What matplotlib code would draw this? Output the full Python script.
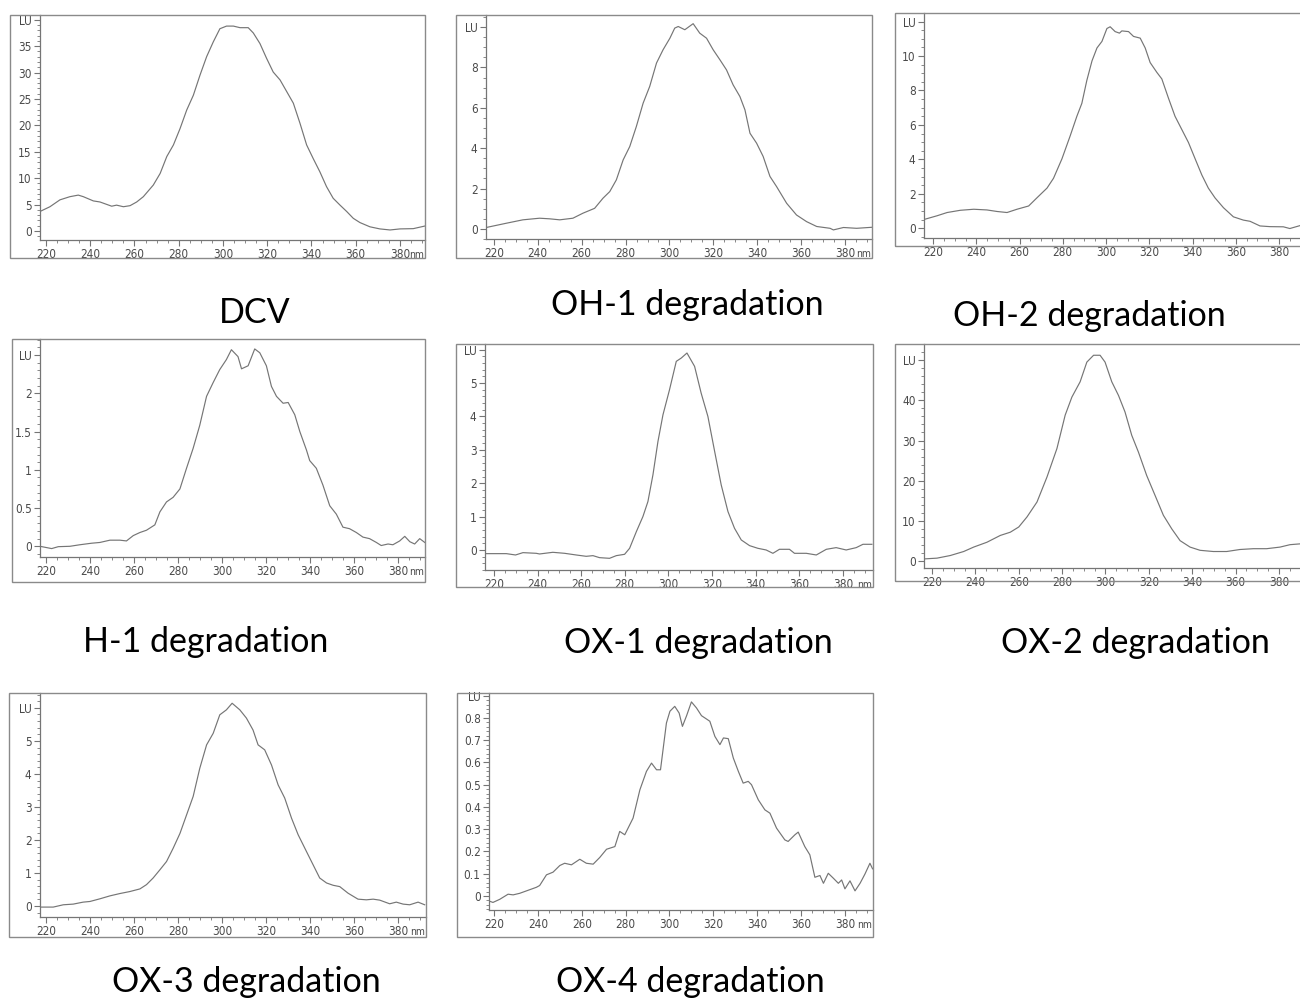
import matplotlib
matplotlib.use("Agg")
import matplotlib.pyplot as plt
from matplotlib.patches import Rectangle
from matplotlib.ticker import MultipleLocator

W, H = 1300, 1001

# spectra: wavelength (nm) and intensity (LU)
dcv_nm = [217.3, 221.8, 226.3, 230.8, 234.6, 236.9, 241.4, 244.4, 249.7, 251.9, 255.0, 258.0, 261.0,
          264.0, 268.5, 271.6, 274.6, 277.6, 280.6, 283.6, 286.6, 289.6, 292.6, 295.6, 298.6, 301.6,
          304.7, 307.7, 311.4, 313.7, 316.7, 319.7, 322.7, 325.8, 328.8, 331.8, 334.8, 337.8, 340.8,
          343.8, 346.8, 349.8, 352.9, 355.9, 358.9, 361.9, 366.4, 370.9, 375.5, 380.0, 386.0, 391.3]
dcv_lu = [3.7, 4.6, 5.9, 6.5, 6.8, 6.5, 5.7, 5.5, 4.7, 4.9, 4.6, 4.8, 5.5,
          6.5, 8.7, 10.9, 14.1, 16.3, 19.4, 22.9, 25.7, 29.5, 33.0, 35.8, 38.3, 38.8,
          38.8, 38.5, 38.5, 37.5, 35.5, 32.7, 30.1, 28.6, 26.4, 24.2, 20.4, 16.3, 13.7,
          11.2, 8.4, 6.2, 4.9, 3.7, 2.4, 1.6, 0.8, 0.4, 0.2, 0.4, 0.45, 0.95]

oh1_nm = [216.5, 225.6, 233.2, 240.8, 245.4, 250.0, 256.0, 260.6, 265.9, 269.7, 272.8, 275.8, 278.9,
          281.9, 284.9, 288.0, 291.0, 294.1, 297.1, 300.2, 302.4, 304.0, 307.0, 310.8, 313.8, 316.9,
          319.9, 323.0, 326.0, 329.0, 332.1, 334.4, 336.7, 339.7, 342.7, 345.8, 348.8, 353.4, 357.9,
          362.5, 367.1, 373.2, 374.7, 379.3, 385.3, 392.2]
oh1_lu = [0.07, 0.28, 0.45, 0.53, 0.5, 0.45, 0.53, 0.78, 1.02, 1.52, 1.85, 2.43, 3.42,
          4.08, 5.07, 6.23, 7.06, 8.22, 8.88, 9.45, 9.95, 10.03, 9.87, 10.17, 9.7, 9.45,
          8.88, 8.38, 7.88, 7.14, 6.56, 5.9, 4.74, 4.25, 3.59, 2.6, 2.1, 1.27, 0.69,
          0.36, 0.12, 0.03, -0.05, 0.07, 0.03, 0.08]

oh2_nm = [216.5, 221.8, 226.5, 232.6, 238.8, 244.9, 249.6, 254.2, 258.8, 264.2, 268.0, 272.7, 275.7,
          279.6, 283.4, 286.5, 288.8, 291.1, 293.5, 295.8, 298.1, 300.4, 301.9, 304.2, 306.2, 307.3,
          310.4, 312.7, 315.8, 318.1, 320.4, 323.5, 325.8, 328.9, 331.9, 335.0, 338.1, 341.2, 344.3,
          347.3, 350.4, 354.3, 358.9, 363.5, 366.6, 371.2, 375.8, 382.0, 385.0, 389.7]
oh2_lu = [0.53, 0.72, 0.91, 1.04, 1.1, 1.06, 0.97, 0.91, 1.1, 1.29, 1.76, 2.33, 2.9,
          4.03, 5.36, 6.5, 7.25, 8.58, 9.72, 10.47, 10.85, 11.6, 11.7, 11.42, 11.33, 11.46,
          11.42, 11.14, 11.04, 10.47, 9.62, 9.05, 8.67, 7.54, 6.5, 5.74, 4.98, 4.03, 3.09,
          2.33, 1.76, 1.19, 0.66, 0.47, 0.4, 0.13, 0.09, 0.08, -0.02, 0.15]

h1_nm = [217.3, 222.6, 225.6, 230.9, 235.4, 240.7, 244.5, 249.1, 253.6, 256.6, 259.7, 262.7, 265.7,
         269.5, 271.8, 274.8, 277.8, 280.9, 283.9, 286.9, 289.9, 293.0, 296.0, 299.0, 302.0, 304.3,
         307.3, 308.9, 311.9, 314.9, 317.2, 320.2, 322.5, 324.8, 327.8, 330.1, 333.1, 335.4, 338.4,
         339.9, 342.9, 345.9, 349.0, 352.0, 355.0, 358.0, 361.1, 364.1, 367.1, 370.2, 372.4, 375.5,
         377.7, 380.8, 383.1, 385.4, 387.6, 389.9, 392.2]
h1_lu = [0.0, -0.03, -0.005, 0.0, 0.02, 0.04, 0.05, 0.08, 0.08, 0.07, 0.14, 0.18, 0.21,
         0.28, 0.45, 0.58, 0.64, 0.75, 1.02, 1.28, 1.58, 1.96, 2.14, 2.31, 2.44, 2.57,
         2.48, 2.32, 2.36, 2.58, 2.53, 2.36, 2.09, 1.96, 1.87, 1.88, 1.72, 1.5, 1.26,
         1.12, 1.02, 0.8, 0.53, 0.42, 0.25, 0.23, 0.18, 0.12, 0.1, 0.05, 0.01, 0.03,
         0.02, 0.07, 0.13, 0.06, 0.03, 0.1, 0.05]

ox1_nm = [215.7, 225.7, 229.9, 233.3, 239.4, 240.9, 247.0, 252.4, 257.7, 262.3, 265.4, 268.4, 273.0,
          276.1, 279.9, 282.2, 285.3, 288.3, 290.6, 292.9, 295.2, 297.5, 300.5, 303.6, 305.9, 308.5,
          312.0, 315.0, 318.1, 321.2, 324.2, 327.3, 330.3, 333.4, 337.2, 341.0, 344.8, 347.9, 350.9,
          355.5, 357.8, 363.2, 367.8, 372.4, 376.9, 381.5, 386.1, 389.2, 393.3]
ox1_lu = [-0.11, -0.11, -0.15, -0.08, -0.1, -0.12, -0.07, -0.1, -0.15, -0.19, -0.17, -0.23, -0.25,
          -0.17, -0.13, 0.05, 0.55, 1.0, 1.45, 2.25, 3.25, 4.05, 4.8, 5.65, 5.75, 5.9,
          5.5, 4.7, 4.0, 2.95, 1.95, 1.15, 0.65, 0.3, 0.13, 0.05, 0.0, -0.1, 0.02,
          0.02, -0.1, -0.1, -0.15, 0.02, 0.07, 0.0, 0.07, 0.17, 0.17]

ox2_nm = [216.9, 222.3, 228.4, 234.6, 239.2, 245.3, 251.5, 256.1, 260.0, 263.8, 268.4, 273.0, 277.6,
          281.4, 284.5, 288.3, 291.4, 294.5, 297.5, 299.8, 302.9, 306.0, 309.0, 312.1, 315.2, 319.0,
          322.9, 326.7, 330.6, 334.4, 339.0, 343.6, 349.7, 355.9, 362.0, 368.2, 374.3, 380.5, 385.1,
          389.7]
ox2_lu = [0.58, 0.75, 1.4, 2.4, 3.5, 4.7, 6.4, 7.2, 8.5, 11.0, 14.7, 20.9, 28.0,
          36.3, 40.8, 44.6, 49.5, 51.2, 51.2, 49.5, 44.6, 41.2, 37.1, 31.3, 27.1, 21.3,
          16.3, 11.4, 8.0, 5.1, 3.5, 2.7, 2.4, 2.4, 2.9, 3.1, 3.1, 3.5, 4.1,
          4.3]

ox3_nm = [217.3, 223.3, 227.9, 232.4, 236.9, 240.0, 244.5, 249.1, 253.6, 258.1, 262.7, 265.7, 268.7,
          271.8, 274.8, 277.8, 280.9, 283.9, 286.9, 289.9, 293.0, 296.0, 299.0, 302.0, 304.6, 308.1,
          311.1, 314.1, 316.4, 319.4, 322.5, 325.5, 328.5, 331.6, 334.6, 338.4, 341.4, 344.4, 347.5,
          350.5, 353.5, 357.3, 361.8, 365.6, 368.7, 371.7, 376.2, 379.2, 382.3, 385.3, 389.1, 392.1]
ox3_lu = [-0.03, -0.03, 0.04, 0.06, 0.12, 0.14, 0.22, 0.31, 0.38, 0.44, 0.52, 0.65, 0.85,
          1.1, 1.35, 1.75, 2.2, 2.76, 3.32, 4.17, 4.88, 5.23, 5.79, 5.94, 6.14, 5.94,
          5.69, 5.33, 4.88, 4.73, 4.27, 3.67, 3.27, 2.66, 2.16, 1.65, 1.25, 0.85, 0.7,
          0.63, 0.59, 0.39, 0.21, 0.19, 0.21, 0.18, 0.07, 0.12, 0.06, 0.04, 0.12, 0.04]

ox4_nm = [217.3, 219.5, 222.6, 226.4, 228.7, 231.7, 234.8, 239.3, 240.8, 243.9, 246.9, 250.0, 252.2,
          255.3, 259.1, 262.1, 265.2, 268.2, 271.3, 275.1, 277.3, 279.6, 283.4, 286.5, 289.5, 291.8,
          294.1, 295.9, 298.6, 300.2, 302.4, 304.4, 305.9, 307.8, 310.0, 312.3, 314.6, 316.9, 318.4,
          320.7, 323.0, 324.6, 326.8, 329.1, 331.4, 333.6, 335.9, 337.4, 340.5, 343.5, 345.8, 348.8,
          352.6, 354.1, 357.2, 358.7, 361.7, 364.0, 366.3, 368.6, 370.2, 372.4, 374.7, 377.0, 378.5,
          380.0, 382.3, 384.6, 386.9, 389.1, 391.4, 392.6]
ox4_lu = [-0.021, -0.029, -0.015, 0.008, 0.005, 0.012, 0.023, 0.039, 0.047, 0.095, 0.107, 0.137, 0.147,
          0.14, 0.165, 0.147, 0.143, 0.173, 0.21, 0.222, 0.29, 0.275, 0.35, 0.477, 0.56, 0.597,
          0.567, 0.567, 0.777, 0.83, 0.852, 0.822, 0.762, 0.81, 0.872, 0.845, 0.81, 0.795, 0.785,
          0.717, 0.68, 0.71, 0.707, 0.62, 0.56, 0.507, 0.515, 0.5, 0.432, 0.387, 0.372, 0.305,
          0.252, 0.245, 0.275, 0.287, 0.222, 0.185, 0.084, 0.092, 0.057, 0.102, 0.08, 0.057, 0.072,
          0.032, 0.068, 0.023, 0.057, 0.098, 0.147, 0.122]

titles = ["DCV", "OH-1 degradation", "OH-2 degradation", "H-1 degradation", "OX-1 degradation",
          "OX-2 degradation", "OX-3 degradation", "OX-4 degradation"]
xs = [dcv_nm, oh1_nm, oh2_nm, h1_nm, ox1_nm, ox2_nm, ox3_nm, ox4_nm]
ys = [dcv_lu, oh1_lu, oh2_lu, h1_lu, ox1_lu, ox2_lu, ox3_lu, ox4_lu]
yticks = [[0, 5, 10, 15, 20, 25, 30, 35], [0, 2, 4, 6, 8], [0, 2, 4, 6, 8, 10], [0, 0.5, 1, 1.5, 2],
          [0, 1, 2, 3, 4, 5], [0, 10, 20, 30, 40], [0, 1, 2, 3, 4, 5],
          [0, 0.1, 0.2, 0.3, 0.4, 0.5, 0.6, 0.7, 0.8]]
ytick_labels = [["0", "5", "10", "15", "20", "25", "30", "35"], ["0", "2", "4", "6", "8"],
                ["0", "2", "4", "6", "8", "10"], ["0", "0.5", "1", "1.5", "2"],
                ["0", "1", "2", "3", "4", "5"], ["0", "10", "20", "30", "40"],
                ["0", "1", "2", "3", "4", "5"],
                ["0", "0.1", "0.2", "0.3", "0.4", "0.5", "0.6", "0.7", "0.8"]]
lu_pos = [40, 10, 12, 2.5, 6, 50, 6, 0.9]

# layout in pixels: frame box, plot box (left, top, right, bottom), limits, title centre
frames = [(10, 15, 425, 258), (456, 15, 872, 258), (895, 13, 1310, 246),
          (12, 339, 425, 582), (456, 344, 873, 587), (895, 344, 1310, 581),
          (9, 693, 426, 937), (457, 693, 873, 937)]
boxes = [(40, 15, 425, 240), (486, 15, 872, 239), (924, 13, 1300, 238),
         (40, 339, 425, 557), (485, 344, 873, 570), (924, 344, 1300, 568),
         (40, 693, 426, 917), (489, 693, 873, 910)]
xlims = [(217.3, 391.3), (216.4, 392.3), (215.8, 389.7), (217.3, 392.3), (215.9, 393.8),
         (216.3, 389.7), (217.3, 392.7), (217.7, 392.8)]
ylims = [(-1.7, 40.9), (-0.5, 10.6), (-0.57, 12.5), (-0.14, 2.71), (-0.6, 6.17), (-1.7, 54),
         (-0.33, 6.45), (-0.063, 0.912)]
minor_y = [1, 0.5, 0.5, 0.1, 0.2, 2, 0.2, 0.02]
title_xy = [(255, 313), (687, 305), (1089, 316), (206, 642), (698, 643), (1135, 643),
            (246, 982), (690, 982)]
show_nm = [True, True, False, True, True, False, True, True]

GREY = "#757575"
TICKC = "#4a4a4a"
tick_font = ["Liberation Sans Narrow", "DejaVu Sans"]

fig = plt.figure(figsize=(W / 100, H / 100), dpi=100)

for i in range(len(titles)):
    fl, ft, fr, fb = frames[i]
    fig.patches.append(Rectangle((fl / W, 1 - fb / H), (fr - fl) / W, (fb - ft) / H,
                                 transform=fig.transFigure, fill=False, edgecolor="#8a8a8a",
                                 linewidth=1.0))
    l, t, r, b = boxes[i]
    ax = fig.add_axes([l / W, 1 - b / H, (r - l) / W, (b - t) / H])
    ax.plot(xs[i], ys[i], color=GREY, linewidth=0.85)
    ax.set_xlim(*xlims[i])
    ax.set_ylim(*ylims[i])
    ax.spines["top"].set_visible(False)
    ax.spines["right"].set_visible(False)
    for s in ("left", "bottom"):
        ax.spines[s].set_color(GREY)
        ax.spines[s].set_linewidth(0.9)
    ax.set_xticks([220, 240, 260, 280, 300, 320, 340, 360, 380])
    ax.xaxis.set_minor_locator(MultipleLocator(5))
    ax.set_yticks(yticks[i] + [lu_pos[i]])
    ax.set_yticklabels(ytick_labels[i] + ["LU"])
    ax.yaxis.set_minor_locator(MultipleLocator(minor_y[i]))
    ax.tick_params(which="major", length=4, width=0.8, color=GREY, labelcolor=TICKC,
                   labelsize=8.5, pad=2)
    ax.tick_params(which="minor", length=2, width=0.6, color=GREY)
    for lab in ax.get_xticklabels() + ax.get_yticklabels():
        lab.set_family(tick_font)
        lab.set_stretch("condensed")
    if show_nm[i]:
        ax.text(0.998, -0.045, "nm", transform=ax.transAxes, ha="right", va="top",
                fontsize=7.5, color=TICKC, family=tick_font, stretch="condensed")
    tx, ty = title_xy[i]
    fig.text(tx / W, 1 - ty / H, titles[i], ha="center", va="center", fontsize=24.5,
             family=["Lato", "DejaVu Sans"], color="black")

fig.savefig("out.png", dpi=100)
